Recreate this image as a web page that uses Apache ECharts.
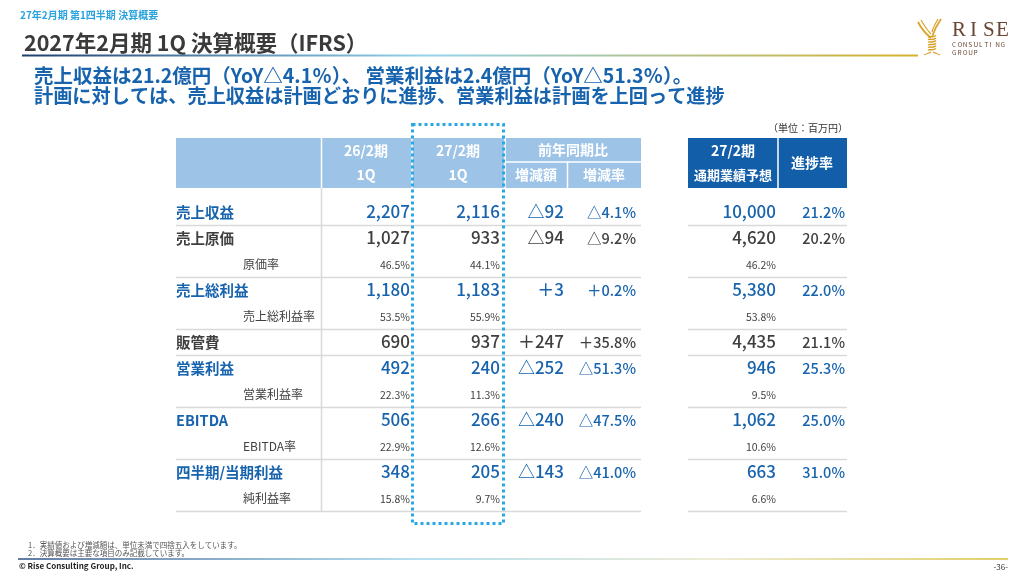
<!DOCTYPE html>
<html><head><meta charset="utf-8">
<script src="https://cdn.jsdelivr.net/npm/echarts@6/dist/echarts.min.js"></script>
<style>html,body{margin:0;padding:0;background:#fff;}#c{width:1024px;height:576px;}</style>
</head><body><div id="c"></div>
<script>
// ---- data ----
const mainLabels = ['売上収益','売上原価','売上総利益','販管費','営業利益','EBITDA','四半期/当期利益'];
const mainBlue = [true,false,true,false,true,true,true];
const prevVals = [2207,1027,1180,690,492,506,348];
const curVals = [2116,933,1183,937,240,266,205];
const diffVals = [-92,-94,3,247,-252,-240,-143];
const diffPcts = [-4.1,-9.2,0.2,35.8,-51.3,-47.5,-41.0];
const forecastVals = [10000,4620,5380,4435,946,1062,663];
const progressPcts = [21.2,20.2,22.0,21.1,25.3,25.0,31.0];
const ratioLabels = ['原価率','売上総利益率','営業利益率','EBITDA率','純利益率'];
const ratioOf = [1,2,4,5,6];
const prevRatios = [46.5,53.5,22.3,22.9,15.8];
const curRatios = [44.1,55.9,11.3,12.6,9.7];
const forecastRatios = [46.2,53.8,9.5,10.6,6.6];
const headerPrev = ['26/2期','1Q'];
const headerCur = ['27/2期','1Q'];
const headerYoy = ['前年同期比','増減額','増減率'];
const headerFc = ['27/2期','通期業績予想'];
const headerProg = '進捗率';

// ---- layout / style ----
const FF = "'Noto Sans CJK JP','Noto Sans',sans-serif";
const BLUE = '#1763ae', DARK = '#3f3f3f';
const COL = {label:176, sub:243, prev:410, cur:500, diff:564, pct:636, fc:776, prog:845};
const LINE_L = [176,641], LINE_R = [688,847];

const fmtInt = n => n.toLocaleString('en-US');
const fmtDiff = n => (n < 0 ? '△' + fmtInt(-n) : '＋' + fmtInt(n));
const fmtDiffPct = n => (n < 0 ? '△' + (-n).toFixed(1) : '＋' + n.toFixed(1)) + '%';
const fmtPct = n => n.toFixed(1) + '%';

const rows = [];
mainLabels.forEach((lab, i) => {
  const j = ratioOf.indexOf(i);
  rows.push({kind:'main', i, last: j < 0});
  if (j >= 0) rows.push({kind:'sub', j, last:true});
});

function T(text, x, y, align, size, color, weight) {
  return {type:'text', silent:true, style:{text, x, y, align, verticalAlign:'middle',
    textAlign:align, textVerticalAlign:'middle', fill:color,
    font:(weight||'normal') + ' ' + size + 'px ' + FF}};
}
function L(x1,y1,x2,y2,color,w,dash){
  return {type:'line', silent:true, shape:{x1,y1,x2,y2}, style:{stroke:color, lineWidth:w||1, lineDash:dash||null}};
}

function renderItem(params, api) {
  const k = params.dataIndex, r = rows[k];
  const y = api.coord([0, k])[1];
  const h = api.size([0, 1])[1];
  const ch = [];
  if (r.kind === 'main') {
    const i = r.i, c = mainBlue[i] ? BLUE : DARK;
    ch.push(T(mainLabels[i], COL.label, y, 'left', 14.5, c, 'bold'));
    ch.push(T(fmtInt(prevVals[i]), COL.prev, y, 'right', 17, c, '500'));
    ch.push(T(fmtInt(curVals[i]), COL.cur, y, 'right', 17, c, '500'));
    ch.push(T(fmtDiff(diffVals[i]), COL.diff, y, 'right', 17, c, '500'));
    ch.push(T(fmtDiffPct(diffPcts[i]), COL.pct, y, 'right', 14.5, c, '500'));
    ch.push(T(fmtInt(forecastVals[i]), COL.fc, y, 'right', 17, c, '500'));
    ch.push(T(fmtPct(progressPcts[i]), COL.prog, y, 'right', 14.5, c, '500'));
  } else {
    const j = r.j;
    ch.push(T(ratioLabels[j], COL.sub, y, 'left', 12, DARK));
    ch.push(T(fmtPct(prevRatios[j]), COL.prev, y + 1, 'right', 10.5, DARK));
    ch.push(T(fmtPct(curRatios[j]), COL.cur, y + 1, 'right', 10.5, DARK));
    ch.push(T(fmtPct(forecastRatios[j]), COL.fc, y + 1, 'right', 10.5, DARK));
  }
  if (r.last) {
    const ly = Math.round(y + h / 2) + 0.5;
    ch.push(L(LINE_L[0], ly, LINE_L[1], ly, '#d9d9d9', 1.5));
    ch.push(L(LINE_R[0], ly, LINE_R[1], ly, '#d9d9d9', 1.5));
  }
  return {type:'group', children:ch};
}

const grad = (x1, x2, stops) => ({type:'linear', x:x1, y:0, x2:x2, y2:0, global:true,
  colorStops: stops});

const graphics = [];
// top small header
graphics.push(T('27年2月期 第1四半期 決算概要', 20, 15, 'left', 10, '#2ba3df', 'bold'));
graphics.push(T('2027年2月期 1Q 決算概要（IFRS）', 24, 43, 'left', 21.5, '#3a3a3a', 'bold'));
graphics.push(L(22, 55.5, 918, 55.5, grad(22, 918, [
  {offset:0, color:'#1f3f6e'}, {offset:0.45, color:'#93d3ec'}, {offset:1, color:'#d6b22c'}]), 2));
graphics.push(T('売上収益は21.2億円（YoY△4.1％）、 営業利益は2.4億円（YoY△51.3％）。', 34, 76, 'left', 19.5, BLUE, 'bold'));
graphics.push(T('計画に対しては、売上収益は計画どおりに進捗、営業利益は計画を上回って進捗', 34, 96, 'left', 19.2, BLUE, 'bold'));
// unit
graphics.push(T('（単位：百万円）', 848, 128, 'right', 10, '#333'));
// header band
graphics.push({type:'rect', silent:true, shape:{x:176, y:138, width:465, height:50}, style:{fill:'#9dc3e6'}});
graphics.push(L(321.5, 138, 321.5, 188, '#fff', 1.5));
graphics.push(L(412, 138, 412, 188, '#fff', 1.5));
graphics.push(L(505, 138, 505, 188, '#fff', 1.5));
graphics.push(L(505, 162, 641, 162, '#fff', 1.5));
graphics.push(L(567.5, 162, 567.5, 188, '#fff', 1.5));
graphics.push(T(headerPrev[0], 366, 151, 'center', 14, '#fff', 'bold'));
graphics.push(T(headerPrev[1], 366, 175, 'center', 14, '#fff', 'bold'));
graphics.push(T(headerCur[0], 458, 151, 'center', 14, '#fff', 'bold'));
graphics.push(T(headerCur[1], 458, 175, 'center', 14, '#fff', 'bold'));
graphics.push(T(headerYoy[0], 573, 150, 'center', 14, '#fff', 'bold'));
graphics.push(T(headerYoy[1], 536, 175, 'center', 14, '#fff', 'bold'));
graphics.push(T(headerYoy[2], 604, 175, 'center', 14, '#fff', 'bold'));
graphics.push({type:'rect', silent:true, shape:{x:688, y:138, width:159, height:50}, style:{fill:'#125ea9'}});
graphics.push(L(778, 138, 778, 188, '#fff', 1.5));
graphics.push(T(headerFc[0], 733, 151, 'center', 14, '#fff', 'bold'));
graphics.push(T(headerFc[1], 733, 175, 'center', 13, '#fff', 'bold'));
graphics.push(T(headerProg, 812, 163, 'center', 14, '#fff', 'bold'));
// vertical divider in body
graphics.push(L(321.5, 188, 321.5, 511, '#d9d9d9', 1.5));
// dotted highlight box
graphics.push({type:'rect', silent:true, z:100, shape:{x:412.5, y:124.5, width:91, height:399},
  style:{fill:'none', stroke:'#2aa8e4', lineWidth:3, lineDash:[3,3]}});
// footnotes
graphics.push(T('1．実績値および増減額は、単位未満で四捨五入をしています。', 28, 545, 'left', 7.5, '#555'));
graphics.push(T('2．決算概要は主要な項目のみ記載しています。', 28, 553, 'left', 7.5, '#555'));
graphics.push(L(18, 559, 1008, 559, grad(18, 1008, [
  {offset:0, color:'#2b4f82'}, {offset:0.4, color:'#9dd4ea'}, {offset:0.7, color:'#e8e6c8'}, {offset:1, color:'#d6c03a'}]), 1.5));
graphics.push(T('© Rise Consulting Group, Inc.', 19, 566, 'left', 8, '#222', 'bold'));
graphics.push(T('-36-', 1008, 567, 'right', 8, '#333'));
// logo text
const riseX = [952, 970, 983, 996];
'RISE'.split('').forEach((c, k) => graphics.push({type:'text', silent:true, style:{text:c, x:riseX[k], y:30,
  align:'left', verticalAlign:'middle', textAlign:'left', textVerticalAlign:'middle', fill:'#6b4532',
  font:"normal 21px 'Liberation Serif','DejaVu Serif',serif"}}));
'CONSULTING'.split('').forEach((c, k) => graphics.push(T(c, 952 + k * 5.4, 45, 'left', 6.5, '#6b4532')));
'GROUP'.split('').forEach((c, k) => graphics.push(T(c, 952 + k * 5.4, 53, 'left', 6.5, '#6b4532')));
// logo icon (gold wheat-like mark)
const GOLD = '#d9a32c';
const bz = (x1,y1,cx1,cy1,cx2,cy2,x2,y2,w) => ({type:'bezierCurve', silent:true,
  shape:{x1,y1,cpx1:cx1,cpy1:cy1,cpx2:cx2,cpy2:cy2,x2,y2}, style:{stroke:GOLD, lineWidth:w||1.6, fill:'none'}});
graphics.push(bz(918,22, 922,30, 926,34, 931,38, 1.8));
graphics.push(bz(921,20, 925,27, 928,31, 931,34, 1.2));
graphics.push(bz(941,19, 936,26, 934,31, 932,37, 1.8));
graphics.push(bz(938,19, 935,24, 933,28, 932,32, 1.2));
for (let k = 0; k < 6; k++) {
  const yy = 37 + k * 2.6;
  graphics.push(bz(928, yy, 930, yy - 1, 933, yy + 1, 936, yy - 1.5, 1.5));
}
graphics.push(bz(931,52, 929,53, 926,54, 924,55, 1.2));
graphics.push(bz(933,52, 935,53, 938,54, 940,55, 1.2));

const chart = echarts.init(document.getElementById('c'), null, {renderer:'canvas'});
chart.setOption({
  animation:false,
  backgroundColor:'#fff',
  grid:{left:0, right:0, top:199, bottom:65},
  xAxis:{type:'value', min:0, max:1024, show:false},
  yAxis:{type:'category', inverse:true, show:false, data: rows.map((r, k) => String(k))},
  series:[{type:'custom', renderItem, clip:false, silent:true,
    data: rows.map((r, k) => [0, k]), encode:{x:0, y:1}}],
  graphic: graphics
});
</script></body></html>
